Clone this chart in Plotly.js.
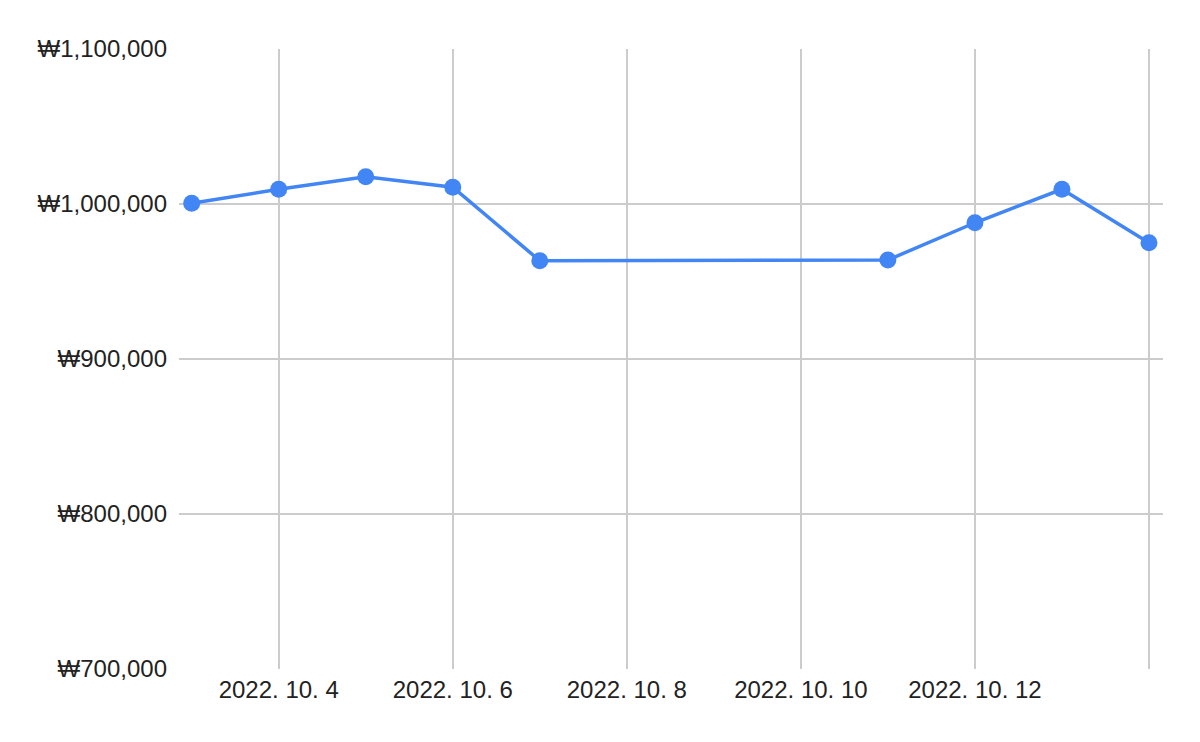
<!DOCTYPE html>
<html>
<head>
<meta charset="utf-8">
<script src="https://cdn.plot.ly/plotly-3.0.1.min.js"></script>
<style>html,body{margin:0;padding:0;background:#fff;}#chart{width:1200px;height:742px;}</style>
</head>
<body>
<div id="chart"></div>
<script>
const dates = ["2022-10-03","2022-10-04","2022-10-05","2022-10-06","2022-10-07","2022-10-11","2022-10-12","2022-10-13","2022-10-14"];
const prices = [1000500, 1009500, 1017600, 1010800, 963400, 963900, 987900, 1009500, 975000];
const xTickVals = ["2022-10-04","2022-10-06","2022-10-08","2022-10-10","2022-10-12","2022-10-14"];
const xTickText = ["2022. 10. 4","2022. 10. 6","2022. 10. 8","2022. 10. 10","2022. 10. 12",""];
const yTickVals = [700000, 800000, 900000, 1000000, 1100000];
const yTickText = ["₩700,000","₩800,000","₩900,000","₩1,000,000","₩1,100,000"];

Plotly.newPlot("chart", [{
  x: dates, y: prices, type: "scatter", mode: "lines+markers",
  line: {color: "#4285F4", width: 3.5},
  marker: {color: "#4285F4", size: 17},
  hoverinfo: "none"
}], {
  width: 1200, height: 742,
  margin: {l: 179, r: 37, t: 49, b: 73},
  paper_bgcolor: "#fff", plot_bgcolor: "#fff",
  showlegend: false,
  font: {family: "'Liberation Sans', Arial, sans-serif", size: 24, color: "#222"},
  xaxis: {
    type: "date",
    range: ["2022-10-02 20:30", "2022-10-14 03:52"],
    tickvals: xTickVals, ticktext: xTickText,
    tickfont: {family: "'Liberation Sans', Arial, sans-serif", size: 24, color: "#222"},
    showgrid: true, gridcolor: "#cccccc", gridwidth: 2,
    zeroline: false, showline: false, ticks: "",
    ticklabelstandoff: 4
  },
  yaxis: {
    range: [700000, 1100000],
    tickvals: yTickVals, ticktext: yTickText,
    tickfont: {family: "'Liberation Sans', Arial, sans-serif", size: 24, color: "#222"},
    showgrid: true, gridcolor: "#cccccc", gridwidth: 2,
    zeroline: false, showline: false, ticks: "",
    ticklabelstandoff: 11
  }
}, {staticPlot: true});
</script>
</body>
</html>
